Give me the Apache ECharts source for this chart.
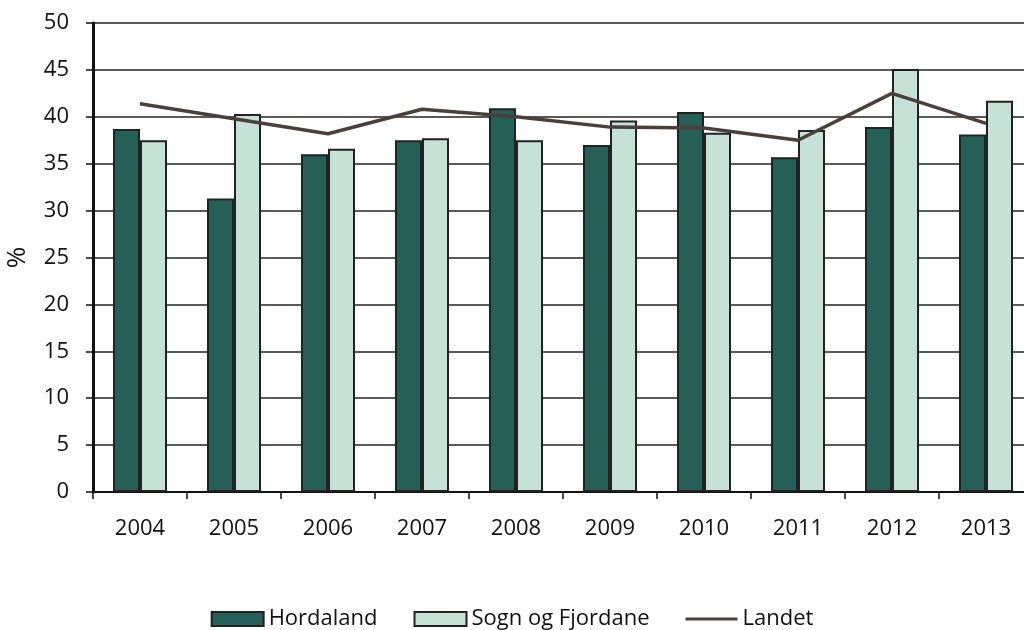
<!DOCTYPE html>
<html>
<head>
<meta charset="utf-8">
<script src="https://cdn.jsdelivr.net/npm/echarts@6/dist/echarts.min.js"></script>
<style>
  html, body { margin: 0; padding: 0; background: #fff; }
  #chart { width: 1024px; height: 630px; }
</style>
</head>
<body>
<div id="chart"></div>
<script>
var years = ['2004', '2005', '2006', '2007', '2008', '2009', '2010', '2011', '2012', '2013'];
var hordaland = [38.7, 31.3, 36.0, 37.5, 40.9, 37.0, 40.5, 35.7, 38.9, 38.1];
var sognFjordane = [37.5, 40.3, 36.6, 37.7, 37.5, 39.6, 38.3, 38.6, 45.1, 41.7];
var landet = [41.4, 39.8, 38.2, 40.8, 40.0, 38.9, 38.8, 37.5, 42.5, 39.3];

var font = 'Open Sans';
var chart = echarts.init(document.getElementById('chart'));

// legend icon for the line: thin bar inside a 52x14 box
var lineIcon = 'path://M0,0 L0.01,0 M0,5.5 L52,5.5 L52,8.5 L0,8.5 Z M0,14 L0.01,14';

chart.setOption({
    animation: false,
    textStyle: { fontFamily: font },
    // plot runs a bit past the right edge, like the original
    grid: { left: 93, top: 23, width: 940, height: 469, outerBoundsMode: 'none' },
    legend: {
        top: 603,
        left: 'center',
        itemWidth: 52,
        itemHeight: 14,
        itemGap: 36,
        textStyle: { fontSize: 22, color: '#111', fontFamily: font },
        data: [
            { name: 'Hordaland', icon: 'rect' },
            { name: 'Sogn og Fjordane', icon: 'rect' },
            { name: 'Landet', icon: lineIcon }
        ]
    },
    xAxis: {
        type: 'category',
        data: years,
        axisLine: { lineStyle: { color: '#111', width: 2 } },
        axisTick: { show: true, length: 7, lineStyle: { color: '#111', width: 1.5 } },
        axisLabel: { color: '#111', fontSize: 22, margin: 26 }
    },
    yAxis: {
        type: 'value',
        min: 0,
        max: 50,
        interval: 5,
        name: '%',
        nameLocation: 'middle',
        nameGap: 62,
        nameRotate: 90,
        nameTextStyle: { color: '#111', fontSize: 26, fontFamily: font },
        axisLine: { show: true, lineStyle: { color: '#111', width: 3 } },
        axisTick: { show: true, length: 7, lineStyle: { color: '#111', width: 1.5 } },
        axisLabel: { color: '#111', fontSize: 22, margin: 24 },
        splitLine: { lineStyle: { color: '#222', width: 1.5 } }
    },
    series: [
        {
            name: 'Hordaland',
            type: 'bar',
            data: hordaland,
            barWidth: 27,
            barGap: '0%',
            itemStyle: { color: '#265E58', borderColor: '#222', borderWidth: 2 }
        },
        {
            name: 'Sogn og Fjordane',
            type: 'bar',
            data: sognFjordane,
            barWidth: 27,
            barGap: '0%',
            itemStyle: { color: '#C6E2D6', borderColor: '#222', borderWidth: 2 }
        },
        {
            name: 'Landet',
            type: 'line',
            data: landet,
            symbol: 'none',
            lineStyle: { color: '#4A3F3A', width: 3.5 },
            itemStyle: { color: '#4A3F3A' }
        }
    ]
});
</script>
</body>
</html>
